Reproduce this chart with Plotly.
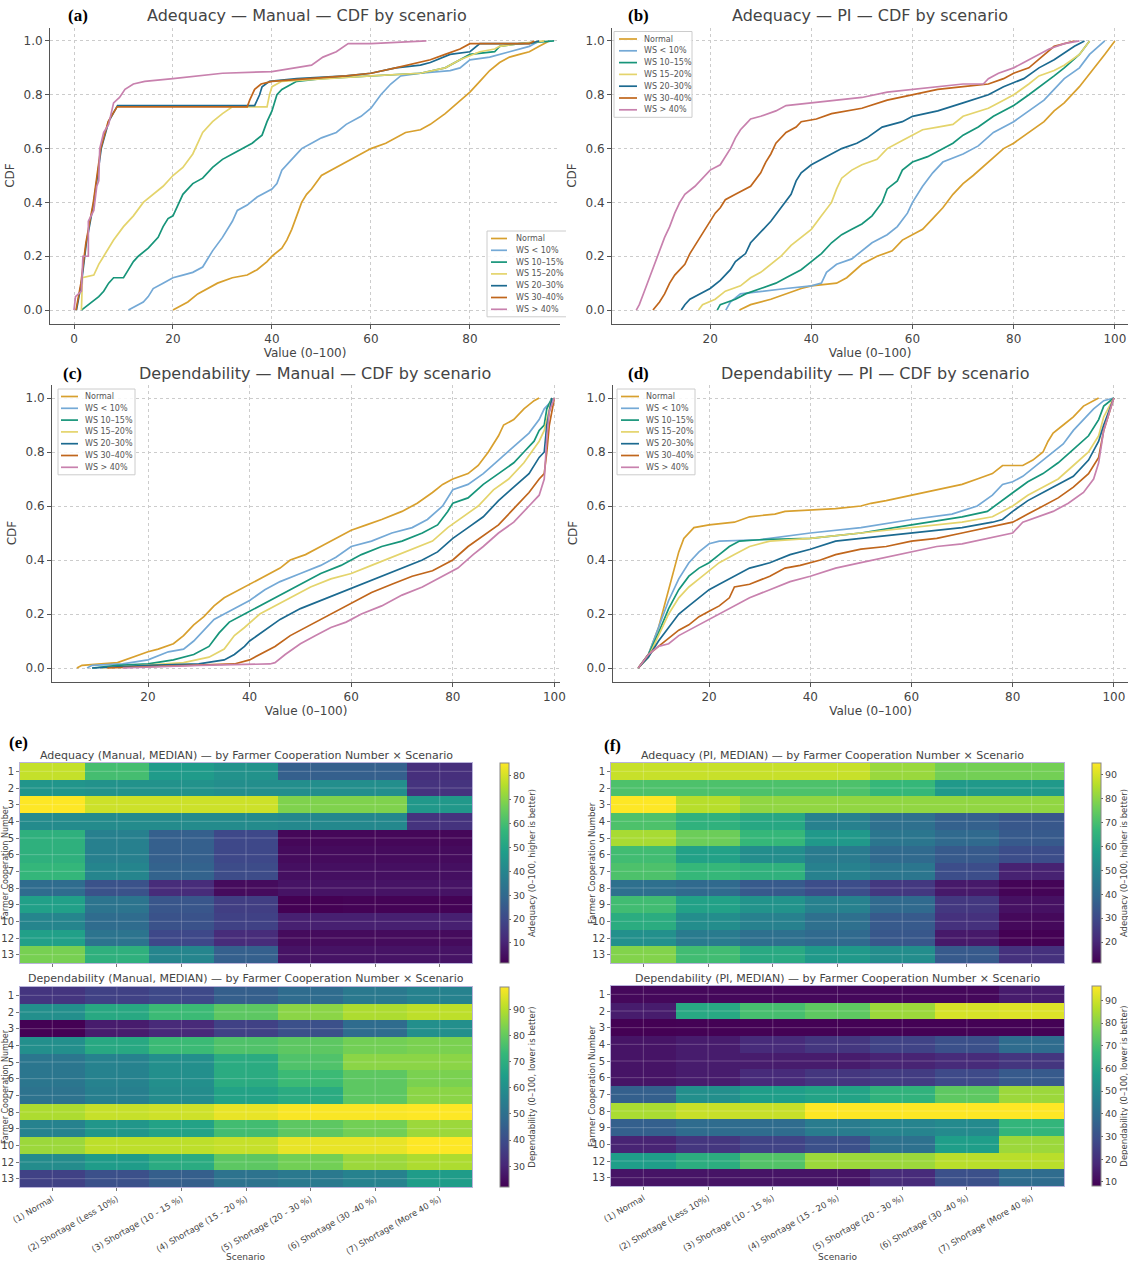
import plotly.graph_objects as go

W, H = 1128, 1262

# ---------------- CDF data (x = value, y = CDF) ----------------
SERIES_NAMES = ["Normal", "WS < 10%", "WS 10–15%", "WS 15–20%", "WS 20–30%", "WS 30–40%", "WS > 40%"]
SERIES_COLORS = ["#d8a02e", "#74a9d6", "#17957a", "#e4d46c", "#1c6a90", "#c0661c", "#c881ae"]

# (a) Adequacy - Manual
AM_NORMAL = [(20, 0), (21, 0.01), (23, 0.03), (25, 0.06), (27, 0.08), (29, 0.1), (32, 0.12), (35, 0.13), (37, 0.15), (39, 0.18), (40, 0.2), (42, 0.23), (43, 0.26), (44, 0.3), (45, 0.35), (46, 0.4), (47, 0.43), (48, 0.45), (50, 0.5), (53, 0.53), (56, 0.56), (60, 0.6), (63, 0.62), (67, 0.66), (70, 0.67), (72, 0.69), (75, 0.73), (78, 0.78), (80, 0.81), (82, 0.85), (84, 0.89), (86, 0.92), (88, 0.94), (90, 0.95), (92, 0.96), (94, 0.98), (96, 1.0)]
AM_WS10 = [(11, 0), (13, 0.02), (14, 0.03), (15, 0.05), (16, 0.08), (18, 0.1), (20, 0.12), (22, 0.13), (24, 0.14), (26, 0.16), (27, 0.19), (28, 0.22), (30, 0.27), (32, 0.33), (33, 0.37), (35, 0.39), (37, 0.42), (40, 0.45), (41, 0.47), (42, 0.52), (44, 0.56), (46, 0.6), (48, 0.62), (50, 0.64), (53, 0.66), (55, 0.69), (58, 0.72), (60, 0.75), (62, 0.8), (64, 0.84), (66, 0.87), (70, 0.88), (76, 0.89), (78, 0.9), (80, 0.93), (84, 0.94), (88, 0.96), (92, 0.98), (94, 1.0)]
AM_WS15 = [(1.5, 0), (3, 0.02), (5, 0.05), (6, 0.07), (7, 0.1), (8, 0.12), (10, 0.12), (11, 0.15), (12, 0.18), (13, 0.2), (15, 0.23), (17, 0.27), (18, 0.31), (19, 0.34), (20, 0.35), (21, 0.39), (22, 0.43), (24, 0.47), (26, 0.49), (28, 0.53), (30, 0.56), (32, 0.58), (34, 0.6), (36, 0.62), (38, 0.65), (39, 0.7), (40, 0.74), (41, 0.8), (42, 0.82), (44, 0.84), (45, 0.85), (50, 0.86), (60, 0.87), (70, 0.88), (75, 0.9), (78, 0.93), (80, 0.95), (85, 0.96), (86, 0.98), (90, 0.99), (97, 1.0)]
AM_WS20 = [(1.5, 0), (1.7, 0.12), (4, 0.13), (5, 0.17), (6, 0.2), (8, 0.26), (10, 0.31), (12, 0.35), (14, 0.4), (16, 0.43), (18, 0.46), (20, 0.5), (22, 0.53), (24, 0.58), (25, 0.62), (26, 0.66), (28, 0.7), (30, 0.73), (32, 0.755), (39, 0.755), (39.5, 0.8), (40, 0.83), (42, 0.85), (50, 0.86), (60, 0.87), (70, 0.88), (75, 0.9), (78, 0.93), (82, 0.96), (85, 0.97), (86, 0.98), (90, 0.99), (95, 1.0)]
AM_WS30 = [(0.5, 0), (1.5, 0.1), (2.5, 0.25), (4, 0.4), (5.5, 0.6), (7, 0.7), (8.8, 0.76), (36.5, 0.76), (37.5, 0.8), (38, 0.83), (39.5, 0.85), (45, 0.86), (55, 0.87), (60, 0.88), (65, 0.9), (70, 0.91), (72, 0.92), (76, 0.95), (80, 0.96), (82, 0.99), (92, 0.99), (94, 1.0)]
AM_WS40 = [(0.4, 0), (1.4, 0.1), (2.4, 0.25), (3.9, 0.4), (5.4, 0.6), (6.9, 0.7), (8.7, 0.755), (35, 0.755), (35.5, 0.78), (36.5, 0.82), (37.8, 0.84), (40, 0.85), (55, 0.87), (60, 0.88), (65, 0.9), (70, 0.92), (72, 0.93), (75, 0.95), (78, 0.97), (80, 0.99), (92, 0.99), (93, 1.0)]
AM_WSMAX = [(0, 0), (0.3, 0.05), (1.5, 0.07), (1.8, 0.2), (2.9, 0.2), (2.9, 0.33), (4, 0.37), (4.6, 0.46), (5, 0.48), (5.2, 0.6), (6, 0.66), (7, 0.69), (7.5, 0.73), (8, 0.77), (9.2, 0.79), (10.3, 0.82), (12, 0.84), (14.3, 0.85), (20, 0.86), (30, 0.88), (40, 0.886), (45, 0.9), (48, 0.91), (50.3, 0.94), (53, 0.96), (55.4, 0.99), (60, 0.99), (71.2, 1.0)]

# (b) Adequacy - PI
AP_NORMAL = [(25.8, 0), (28, 0.02), (32, 0.04), (35, 0.06), (38, 0.08), (40, 0.09), (45, 0.1), (47, 0.12), (50, 0.17), (53, 0.2), (56, 0.22), (58, 0.26), (60, 0.28), (62, 0.3), (64, 0.34), (66, 0.38), (68, 0.43), (70, 0.47), (72, 0.5), (75, 0.55), (78, 0.6), (80, 0.62), (83, 0.66), (86, 0.7), (88, 0.74), (90, 0.77), (93, 0.83), (96, 0.9), (98, 0.95), (100, 1.0)]
AP_WS10 = [(23.1, 0), (24, 0.03), (26, 0.06), (30, 0.07), (35, 0.08), (40, 0.09), (42, 0.1), (43, 0.14), (45, 0.17), (48, 0.19), (50, 0.22), (52, 0.25), (55, 0.28), (57, 0.31), (59, 0.36), (60, 0.4), (62, 0.46), (64, 0.51), (66, 0.55), (70, 0.58), (73, 0.61), (76, 0.66), (80, 0.7), (83, 0.74), (86, 0.78), (88, 0.82), (90, 0.86), (93, 0.9), (95, 0.95), (98, 1.0)]
AP_WS15 = [(21.4, 0), (22, 0.02), (25, 0.04), (27, 0.06), (30, 0.08), (33, 0.1), (35, 0.12), (38, 0.15), (40, 0.18), (42, 0.21), (44, 0.25), (46, 0.28), (48, 0.3), (50, 0.32), (52, 0.35), (54, 0.4), (55, 0.45), (57, 0.48), (58, 0.52), (60, 0.55), (63, 0.57), (66, 0.6), (68, 0.62), (70, 0.65), (73, 0.68), (76, 0.72), (80, 0.76), (83, 0.8), (86, 0.84), (88, 0.87), (90, 0.9), (93, 0.95), (95, 1.0)]
AP_WS20 = [(17.7, 0), (18.5, 0.02), (21, 0.04), (23, 0.07), (26, 0.09), (28, 0.12), (30, 0.14), (32, 0.17), (34, 0.2), (36, 0.24), (38, 0.27), (40, 0.3), (42, 0.35), (44, 0.4), (45, 0.45), (46, 0.49), (48, 0.52), (50, 0.54), (53, 0.56), (55, 0.6), (58, 0.63), (60, 0.65), (62, 0.67), (65, 0.68), (68, 0.69), (70, 0.72), (75, 0.75), (78, 0.78), (80, 0.8), (83, 0.84), (85, 0.87), (88, 0.89), (90, 0.91), (93, 0.95), (95, 1.0)]
AP_WS30 = [(14.3, 0), (15, 0.02), (16, 0.04), (18, 0.06), (20, 0.08), (22, 0.11), (24, 0.15), (25, 0.18), (27, 0.21), (28, 0.25), (30, 0.29), (32, 0.33), (34, 0.38), (36, 0.43), (37, 0.48), (38, 0.51), (40, 0.54), (42, 0.56), (44, 0.58), (46, 0.6), (49, 0.62), (51, 0.64), (54, 0.68), (58, 0.7), (60, 0.72), (65, 0.74), (70, 0.77), (75, 0.8), (78, 0.83), (82, 0.86), (85, 0.9), (88, 0.93), (92, 0.98), (94, 1.0)]
AP_WS40 = [(8.7, 0), (10, 0.03), (11, 0.06), (12, 0.1), (13, 0.13), (15, 0.17), (16, 0.21), (17, 0.24), (19, 0.3), (20, 0.33), (21, 0.36), (22, 0.38), (23, 0.41), (25, 0.43), (27, 0.45), (28, 0.46), (30, 0.51), (31, 0.55), (32, 0.58), (33, 0.62), (35, 0.66), (37, 0.68), (38, 0.7), (41, 0.71), (44, 0.73), (47, 0.74), (50, 0.75), (55, 0.78), (60, 0.8), (65, 0.82), (70, 0.83), (75, 0.84), (78, 0.86), (80, 0.88), (83, 0.9), (86, 0.95), (88, 0.98), (92, 1.0)]
AP_WSMAX = [(5.4, 0), (6, 0.02), (7, 0.07), (8, 0.12), (9, 0.17), (10, 0.22), (11, 0.27), (12, 0.31), (13, 0.36), (14, 0.4), (15, 0.43), (17, 0.46), (19, 0.5), (20, 0.52), (22, 0.54), (23, 0.57), (24, 0.6), (25, 0.64), (26, 0.67), (27, 0.69), (28, 0.71), (30, 0.72), (33, 0.74), (35, 0.76), (40, 0.77), (45, 0.78), (50, 0.79), (55, 0.81), (60, 0.82), (65, 0.83), (70, 0.84), (74, 0.84), (75, 0.86), (77, 0.88), (80, 0.9), (82, 0.92), (85, 0.95), (87, 0.97), (90, 0.99), (93, 1.0)]

# (c) Dependability - Manual
DM_NORMAL = [(6, 0), (7, 0.01), (14, 0.02), (17, 0.04), (20, 0.06), (22, 0.07), (25, 0.09), (27, 0.12), (29, 0.16), (31, 0.19), (33, 0.23), (35, 0.26), (37, 0.28), (40, 0.31), (43, 0.34), (46, 0.37), (48, 0.4), (51, 0.42), (54, 0.45), (57, 0.48), (60, 0.51), (63, 0.53), (66, 0.55), (70, 0.58), (73, 0.61), (76, 0.65), (78, 0.68), (80, 0.7), (83, 0.72), (85, 0.75), (87, 0.8), (89, 0.86), (90, 0.9), (92, 0.92), (94, 0.96), (96, 0.99), (97, 1.0)]
DM_WS10 = [(8, 0), (9, 0.01), (15, 0.015), (20, 0.03), (24, 0.06), (27, 0.07), (29, 0.1), (31, 0.14), (33, 0.18), (35, 0.2), (38, 0.23), (40, 0.25), (43, 0.29), (46, 0.32), (50, 0.35), (54, 0.38), (57, 0.41), (60, 0.45), (64, 0.47), (68, 0.5), (72, 0.52), (75, 0.55), (78, 0.6), (80, 0.66), (83, 0.68), (86, 0.72), (89, 0.77), (92, 0.82), (95, 0.87), (97, 0.92), (98, 0.96), (100, 1.0)]
DM_WS15 = [(9, 0), (14, 0.01), (20, 0.015), (25, 0.03), (29, 0.05), (32, 0.08), (34, 0.13), (36, 0.17), (39, 0.2), (41, 0.22), (44, 0.25), (47, 0.28), (50, 0.31), (54, 0.35), (58, 0.38), (62, 0.42), (66, 0.45), (70, 0.47), (74, 0.5), (77, 0.53), (79, 0.58), (80, 0.61), (83, 0.63), (86, 0.68), (89, 0.72), (92, 0.76), (94, 0.8), (96, 0.84), (97, 0.88), (98, 0.9), (98.5, 0.96), (99.5, 1.0)]
DM_WS20 = [(11, 0), (20, 0.01), (27, 0.02), (32, 0.04), (35, 0.07), (37, 0.12), (39, 0.15), (42, 0.2), (45, 0.23), (48, 0.26), (52, 0.3), (56, 0.33), (60, 0.35), (64, 0.38), (68, 0.41), (72, 0.44), (76, 0.47), (79, 0.52), (82, 0.56), (85, 0.6), (88, 0.66), (91, 0.7), (94, 0.76), (97, 0.84), (98, 0.88), (99.5, 1.0)]
DM_WS30 = [(9, 0), (20, 0.01), (30, 0.015), (35, 0.03), (37, 0.05), (39, 0.08), (40, 0.1), (43, 0.14), (46, 0.18), (50, 0.22), (54, 0.25), (58, 0.28), (62, 0.31), (66, 0.34), (70, 0.37), (74, 0.4), (77, 0.43), (80, 0.48), (83, 0.52), (86, 0.56), (89, 0.62), (92, 0.67), (95, 0.72), (97, 0.78), (98, 0.8), (98.5, 0.9), (99.5, 1.0)]
DM_WS40 = [(12, 0), (30, 0.01), (37, 0.015), (40, 0.03), (42, 0.05), (45, 0.08), (48, 0.12), (52, 0.16), (56, 0.2), (60, 0.24), (64, 0.28), (68, 0.31), (72, 0.34), (76, 0.36), (80, 0.4), (83, 0.45), (86, 0.49), (89, 0.53), (92, 0.59), (95, 0.65), (97, 0.7), (98, 0.72), (98.5, 0.8), (99, 0.9), (100, 1.0)]
DM_WSMAX = [(15, 0), (30, 0.01), (44, 0.015), (45, 0.02), (47, 0.05), (50, 0.09), (53, 0.12), (56, 0.15), (59, 0.17), (62, 0.2), (66, 0.23), (70, 0.27), (74, 0.3), (78, 0.34), (81, 0.37), (84, 0.42), (86, 0.45), (89, 0.5), (92, 0.54), (95, 0.6), (97, 0.64), (98, 0.7), (98.5, 0.85), (99, 0.95), (100, 1.0)]

# (d) Dependability - PI
DP_NORMAL = [(6, 0), (8, 0.05), (10, 0.15), (11, 0.22), (12, 0.3), (13, 0.37), (14, 0.43), (15, 0.48), (16, 0.5), (17, 0.52), (20, 0.53), (25, 0.54), (28, 0.56), (33, 0.57), (35, 0.58), (45, 0.59), (50, 0.6), (52, 0.61), (55, 0.62), (60, 0.64), (65, 0.66), (70, 0.68), (73, 0.7), (76, 0.72), (78, 0.75), (82, 0.75), (84, 0.77), (86, 0.8), (87, 0.84), (88, 0.87), (90, 0.9), (92, 0.93), (94, 0.97), (96, 0.99), (97, 1.0)]
DP_WS10 = [(6, 0), (8, 0.05), (10, 0.15), (12, 0.25), (14, 0.33), (16, 0.39), (18, 0.43), (20, 0.46), (22, 0.47), (30, 0.475), (40, 0.5), (50, 0.52), (60, 0.55), (68, 0.57), (73, 0.6), (76, 0.64), (78, 0.68), (80, 0.69), (82, 0.71), (84, 0.74), (86, 0.77), (88, 0.8), (90, 0.83), (92, 0.88), (94, 0.92), (96, 0.96), (98, 0.99), (100, 1.0)]
DP_WS15 = [(6, 0), (8, 0.05), (10, 0.13), (12, 0.22), (14, 0.29), (16, 0.34), (18, 0.37), (20, 0.39), (22, 0.42), (24, 0.45), (26, 0.47), (30, 0.475), (40, 0.48), (50, 0.5), (60, 0.53), (70, 0.56), (75, 0.58), (78, 0.62), (80, 0.65), (83, 0.69), (86, 0.72), (89, 0.76), (92, 0.81), (95, 0.86), (97, 0.92), (98, 0.97), (100, 1.0)]
DP_WS20 = [(6, 0), (8, 0.04), (10, 0.12), (12, 0.2), (14, 0.26), (16, 0.3), (18, 0.33), (20, 0.36), (22, 0.39), (25, 0.42), (28, 0.45), (32, 0.47), (40, 0.48), (50, 0.5), (60, 0.52), (70, 0.54), (76, 0.56), (80, 0.6), (83, 0.64), (86, 0.67), (89, 0.7), (92, 0.75), (95, 0.8), (97, 0.86), (98, 0.93), (100, 1.0)]
DP_WS30 = [(6, 0), (8, 0.04), (10, 0.1), (12, 0.15), (14, 0.2), (16, 0.23), (18, 0.26), (20, 0.29), (22, 0.31), (25, 0.34), (28, 0.37), (32, 0.39), (36, 0.42), (40, 0.44), (45, 0.47), (50, 0.48), (60, 0.5), (70, 0.52), (76, 0.54), (78, 0.55), (80, 0.58), (83, 0.62), (86, 0.65), (89, 0.68), (92, 0.71), (95, 0.77), (97, 0.84), (98, 0.9), (100, 1.0)]
DP_WS40 = [(6, 0), (8, 0.05), (10, 0.08), (12, 0.11), (14, 0.14), (16, 0.16), (18, 0.19), (20, 0.21), (22, 0.23), (24, 0.26), (25, 0.3), (28, 0.31), (32, 0.34), (35, 0.37), (38, 0.38), (42, 0.4), (45, 0.42), (50, 0.44), (55, 0.45), (60, 0.47), (65, 0.48), (70, 0.5), (75, 0.52), (80, 0.54), (83, 0.57), (86, 0.6), (89, 0.63), (92, 0.67), (95, 0.72), (97, 0.78), (98, 0.88), (100, 1.0)]
DP_WSMAX = [(6, 0), (8, 0.05), (10, 0.08), (12, 0.09), (14, 0.12), (16, 0.14), (18, 0.16), (20, 0.18), (22, 0.2), (25, 0.23), (28, 0.26), (32, 0.29), (36, 0.32), (40, 0.34), (45, 0.37), (50, 0.39), (55, 0.41), (60, 0.43), (65, 0.45), (70, 0.46), (75, 0.48), (80, 0.5), (82, 0.54), (85, 0.56), (88, 0.58), (91, 0.61), (94, 0.65), (96, 0.7), (97, 0.76), (98, 0.88), (100, 1.0)]

# ---------------- Heatmap data (median values, rows = farmer cooperation numbers) ----------------
FARMER_IDS = ["1", "2", "3", "4", "5", "6", "7", "8", "9", "10", "12", "13"]
SCENARIOS = ["(1) Normal", "(2) Shortage (Less 10%)", "(3) Shortage (10 - 15 %)", "(4) Shortage (15 - 20 %)",
             "(5) Shortage (20 - 30 %)", "(6) Shortage (30 -40 %)", "(7) Shortage (More 40 %)"]

ADQ_MANUAL_MEDIAN = [
    [78, 60, 47, 44, 27, 27, 13],
    [45, 44, 44, 43, 43, 43, 14],
    [85.4, 79, 79, 79, 69, 69, 46],
    [42, 42, 42, 42, 41, 41, 14],
    [55, 38, 27, 20, 3, 3, 3],
    [55, 38, 27, 20, 4, 4, 4],
    [57, 40, 28, 21, 5, 5, 5],
    [31, 23, 12, 4, 6, 6, 6],
    [49, 34, 24, 17, 1.6, 2, 2],
    [40, 31, 23, 18, 9, 9, 9],
    [49, 34, 20, 12, 4, 4, 4],
    [68, 55, 40, 27, 6, 6, 6],
]
DEP_MANUAL_MEDIAN = [
    [34, 37, 39, 45, 49, 53, 56],
    [60, 68, 74, 79, 85, 89, 91],
    [22.1, 28, 31, 37, 41, 49, 60],
    [60, 68, 74, 77, 79, 82, 83],
    [52, 56, 60, 69, 77, 85, 85],
    [52, 56, 60, 69, 74, 79, 83],
    [51, 55, 59, 66, 69, 79, 85],
    [89, 92, 93, 96, 98, 98, 98.5],
    [56, 62, 66, 75, 79, 82, 87],
    [87, 91, 91, 92, 96, 96, 98.5],
    [59, 64, 69, 79, 82, 87, 89],
    [37, 41, 45, 51, 53, 56, 64],
]
ADQ_PI_MEDIAN = [
    [88, 88, 88, 88, 82, 77, 77],
    [71, 71, 71, 71, 67, 56, 56],
    [95, 86, 81, 81, 81, 81, 81],
    [71, 65, 61, 48, 42, 37, 34],
    [84, 76, 67, 56, 44, 40, 35],
    [69, 59, 52, 46, 40, 35, 31],
    [71, 67, 65, 48, 44, 31, 19],
    [42, 40, 35, 31, 25, 17, 12],
    [69, 59, 54, 48, 40, 25, 15],
    [63, 52, 48, 42, 35, 23, 13],
    [53, 46, 42, 40, 34, 17, 11.2],
    [79, 69, 62, 56, 52, 35, 23],
]
DEP_PI_MEDIAN = [
    [10, 10, 10, 10, 10, 10, 15],
    [15, 61, 70, 74, 83, 91, 92],
    [8.2, 8.5, 8.5, 8.5, 8.5, 8.5, 8.5],
    [13, 15, 19, 22, 26, 30, 39],
    [13, 15, 15, 15, 17, 19, 22],
    [13, 15, 19, 22, 24, 28, 33],
    [35, 52, 57, 59, 65, 74, 83],
    [85, 89, 89, 96.3, 96.3, 96.3, 96.3],
    [35, 39, 39, 45, 48, 50, 66],
    [17, 22, 26, 30, 41, 57, 83],
    [57, 63, 72, 83, 83, 87, 87],
    [13, 13, 13, 13, 19, 30, 39],
]

# ---------------- helpers (pixel -> paper fraction) ----------------
def fx(p):
    return p / W

def fy(p):
    return 1 - p / H

FONT = "DejaVu Sans"
TXT = "#444444"

fig = go.Figure()

cdf_panels = [
    ("x", "y", [AM_NORMAL, AM_WS10, AM_WS15, AM_WS20, AM_WS30, AM_WS40, AM_WSMAX]),
    ("x2", "y2", [AP_NORMAL, AP_WS10, AP_WS15, AP_WS20, AP_WS30, AP_WS40, AP_WSMAX]),
    ("x3", "y3", [DM_NORMAL, DM_WS10, DM_WS15, DM_WS20, DM_WS30, DM_WS40, DM_WSMAX]),
    ("x4", "y4", [DP_NORMAL, DP_WS10, DP_WS15, DP_WS20, DP_WS30, DP_WS40, DP_WSMAX]),
]
for xa, ya, series in cdf_panels:
    for name, color, pts in zip(SERIES_NAMES, SERIES_COLORS, series):
        fig.add_trace(go.Scatter(
            x=[p[0] for p in pts], y=[p[1] for p in pts], mode="lines", name=name,
            line=dict(color=color, width=1.7), xaxis=xa, yaxis=ya, showlegend=False,
        ))

# heatmaps
heat_specs = [
    ("x5", "y5", ADQ_MANUAL_MEDIAN, 500, 763, 963, [10, 20, 30, 40, 50, 60, 70, 80], "Adequacy (0–100, higher is better)"),
    ("x6", "y6", DEP_MANUAL_MEDIAN, 500, 987, 1187, [30, 40, 50, 60, 70, 80, 90], "Dependability (0–100, lower is better)"),
    ("x7", "y7", ADQ_PI_MEDIAN, 1092, 763, 963, [20, 30, 40, 50, 60, 70, 80, 90], "Adequacy (0–100, higher is better)"),
    ("x8", "y8", DEP_PI_MEDIAN, 1092, 986, 1186, [10, 20, 30, 40, 50, 60, 70, 80, 90], "Dependability (0–100, lower is better)"),
]
for xa, ya, z, cbx, top, bot, tv, cbt in heat_specs:
    fig.add_trace(go.Heatmap(
        z=z, x=SCENARIOS, y=FARMER_IDS, colorscale="Viridis", xaxis=xa, yaxis=ya,
        showscale=True,
        colorbar=dict(
            x=fx(cbx), xanchor="left", xref="paper", xpad=0,
            y=fy(top), yanchor="top", yref="paper", ypad=0,
            len=(bot - top) / H, lenmode="fraction",
            thickness=9, thicknessmode="pixels",
            outlinewidth=1, outlinecolor="#888888",
            tickvals=tv, ticks="outside", ticklen=2, tickcolor="#666",
            tickfont=dict(family=FONT, size=9.5, color=TXT),
            title=dict(text=cbt, side="right", font=dict(family=FONT, size=8.5, color=TXT)),
        ),
    ))

layout = dict(
    width=W, height=H, margin=dict(l=0, r=0, t=0, b=0, autoexpand=False),
    paper_bgcolor="white", plot_bgcolor="white",
    font=dict(family=FONT, color=TXT), showlegend=False,
)

cdf_axes = [
    ("xaxis", "yaxis", "y", "x", [50, 560], [-4.85, 98.2], [27.5, 323.5]),
    ("xaxis2", "yaxis2", "y2", "x2", [612, 1128], [0.6, 102.6], [27.5, 323.5]),
    ("xaxis3", "yaxis3", "y3", "x3", [52, 560], [1.1, 101.1], [384.5, 681.5]),
    ("xaxis4", "yaxis4", "y4", "x4", [613, 1128], [1.0, 102.8], [384.5, 681.5]),
]
for xk, yk, yan, xan, xd, xr, yd in cdf_axes:
    layout[xk] = dict(
        domain=[fx(xd[0]), min(1.0, fx(xd[1]))], anchor=yan, range=xr, automargin=False,
        tickvals=[0, 20, 40, 60, 80, 100], showgrid=True, gridcolor="#cccccc", griddash="dot", gridwidth=1,
        showline=True, linecolor="#555", linewidth=1, ticks="outside", ticklen=4, tickcolor="#555",
        zeroline=False, tickfont=dict(family=FONT, size=12, color=TXT),
        title=dict(text="Value (0–100)", font=dict(family=FONT, size=12, color=TXT), standoff=3),
    )
    layout[yk] = dict(
        domain=[fy(yd[1]), fy(yd[0])], anchor=xan, range=[-0.05, 1.05], automargin=False,
        tickvals=[0, 0.2, 0.4, 0.6, 0.8, 1.0], tickformat=".1f",
        showgrid=True, gridcolor="#cccccc", griddash="dot", gridwidth=1,
        showline=True, linecolor="#555", linewidth=1, ticks="outside", ticklen=4, tickcolor="#555",
        zeroline=False, tickfont=dict(family=FONT, size=12, color=TXT),
        title=dict(text="CDF", font=dict(family=FONT, size=12, color=TXT), standoff=6),
    )

heat_axes = [
    ("xaxis5", "yaxis5", "y5", "x5", [20, 472], [763, 963], False),
    ("xaxis6", "yaxis6", "y6", "x6", [20, 472], [987, 1187], True),
    ("xaxis7", "yaxis7", "y7", "x7", [611, 1064], [763, 963], False),
    ("xaxis8", "yaxis8", "y8", "x8", [611, 1064], [986, 1186], True),
]
for xk, yk, yan, xan, xd, yd, show_x in heat_axes:
    layout[xk] = dict(
        domain=[fx(xd[0]), fx(xd[1])], anchor=yan, showgrid=False, zeroline=False, automargin=False,
        showline=True, linecolor="#b9b3da", linewidth=1, mirror=True,
        ticks="outside", ticklen=3, tickcolor="#777",
        showticklabels=show_x, tickangle=-30,
        tickfont=dict(family=FONT, size=8.5, color=TXT),
    )
    layout[yk] = dict(
        domain=[fy(yd[1]), fy(yd[0])], anchor=xan, autorange="reversed", showgrid=False, zeroline=False,
        automargin=False, showline=True, linecolor="#b9b3da", linewidth=1, mirror=True,
        ticks="outside", ticklen=3, tickcolor="#777",
        tickfont=dict(family=FONT, size=10, color=TXT), type="category",
    )

fig.update_layout(**layout)

# faint grid lines over the heatmaps (at the tick positions, like the original)
shapes = []
for xa, ya in [("x5", "y5"), ("x6", "y6"), ("x7", "y7"), ("x8", "y8")]:
    for i in range(len(SCENARIOS)):
        shapes.append(dict(type="line", xref=xa, yref=ya + " domain", x0=i, x1=i, y0=0, y1=1,
                           line=dict(color="rgba(255,255,255,0.22)", width=1), layer="above"))
    for j in range(len(FARMER_IDS)):
        shapes.append(dict(type="line", xref=xa + " domain", yref=ya, x0=0, x1=1, y0=j, y1=j,
                           line=dict(color="rgba(255,255,255,0.22)", width=1), layer="above"))

# compact legends (matplotlib style): box, line sample, label
legend_specs = [
    # left, right, first-entry y, line x0, line x1, text x, draw right border
    (487, 566, 238.5, 491, 507, 514, False),
    (614, 692, 39, 619, 637, 642, True),
    (58, 135, 396.5, 61, 78, 83, True),
    (617, 695, 396.5, 621, 639, 644, True),
]
STEP = 11.8
annots_leg = []
for left, right, y0, lx0, lx1, tx, rb in legend_specs:
    top = y0 - 7.5
    bot = y0 + STEP * (len(SERIES_NAMES) - 1) + 7.5
    if rb:
        shapes.append(dict(type="rect", xref="paper", yref="paper", x0=fx(left), x1=fx(right),
                           y0=fy(bot), y1=fy(top), fillcolor="rgba(255,255,255,0.85)",
                           line=dict(color="#cccccc", width=1), layer="above"))
    else:
        path = "M %f,%f L %f,%f L %f,%f L %f,%f" % (fx(right), fy(top), fx(left), fy(top), fx(left), fy(bot), fx(right), fy(bot))
        shapes.append(dict(type="rect", xref="paper", yref="paper", x0=fx(left), x1=fx(right),
                           y0=fy(bot), y1=fy(top), fillcolor="rgba(255,255,255,0.85)",
                           line=dict(width=0), layer="above"))
        shapes.append(dict(type="path", xref="paper", yref="paper", path=path,
                           line=dict(color="#cccccc", width=1), layer="above"))
    for k, (name, color) in enumerate(zip(SERIES_NAMES, SERIES_COLORS)):
        yy = y0 + STEP * k
        shapes.append(dict(type="line", xref="paper", yref="paper", x0=fx(lx0), x1=fx(lx1),
                           y0=fy(yy), y1=fy(yy), line=dict(color=color, width=1.7), layer="above"))
        annots_leg.append(dict(text=name, x=fx(tx), y=fy(yy), xref="paper", yref="paper", showarrow=False,
                               xanchor="left", yanchor="middle",
                               font=dict(family=FONT, size=8, color="#555")))

fig.update_layout(shapes=shapes)
for a in annots_leg:
    fig.add_annotation(**a)

# titles & panel labels
annots = [
    ("Adequacy — Manual — CDF by scenario", 307, 16, 16),
    ("Adequacy — PI — CDF by scenario", 870, 16, 16),
    ("Dependability — Manual — CDF by scenario", 315, 373, 16),
    ("Dependability — PI — CDF by scenario", 875, 373, 16),
    ("Adequacy (Manual, MEDIAN) — by Farmer Cooperation Number × Scenario", 246, 755, 11),
    ("Dependability (Manual, MEDIAN) — by Farmer Cooperation Number × Scenario", 246, 978, 11),
    ("Adequacy (PI, MEDIAN) — by Farmer Cooperation Number × Scenario", 832, 755, 11),
    ("Dependability (PI, MEDIAN) — by Farmer Cooperation Number × Scenario", 838, 978, 11),
    ("Scenario", 246, 1257, 9),
    ("Scenario", 838, 1257, 9),
]
for text, xp, yp, size in annots:
    fig.add_annotation(text=text, x=fx(xp), y=fy(yp), xref="paper", yref="paper",
                       showarrow=False, xanchor="center", yanchor="middle",
                       font=dict(family=FONT, size=size, color=TXT))

for lab, xp, yp in [("(a)", 78, 16), ("(b)", 638, 16), ("(c)", 72, 373), ("(d)", 638, 373), ("(e)", 18, 742), ("(f)", 612, 745)]:
    fig.add_annotation(text="<b>" + lab + "</b>", x=fx(xp), y=fy(yp), xref="paper", yref="paper",
                       showarrow=False, xanchor="center", yanchor="middle",
                       font=dict(family="Liberation Serif", size=17, color="black"))

for xp, yp, fs in [(5, 863, 8), (5, 1087, 8), (592, 863, 8.5), (592, 1086, 8.5)]:
    fig.add_annotation(text="Farmer Cooperation Number", x=fx(xp), y=fy(yp), xref="paper", yref="paper",
                       showarrow=False, textangle=-90, xanchor="center", yanchor="middle",
                       font=dict(family=FONT, size=fs, color=TXT))

# remove the browser's default 8px body margin so the figure sits at the page origin; hide the mode bar
fig.write_html("out.html", post_script="document.body.style.margin='0px';",
               config={"displayModeBar": False})
